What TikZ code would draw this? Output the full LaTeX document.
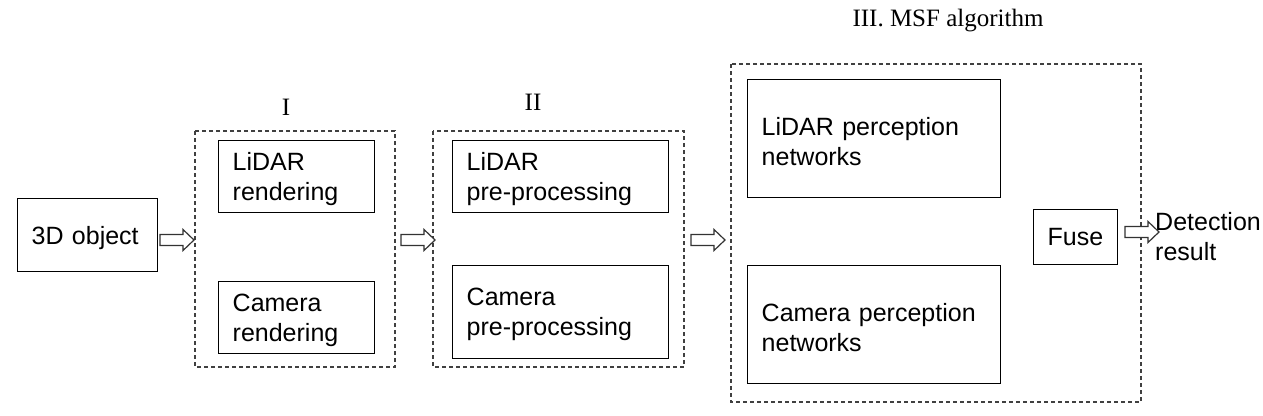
\documentclass[tikz,border=0pt]{standalone}
\usepackage{fontspec}
\setmainfont{Liberation Sans}
\newfontfamily\labelfont{Liberation Serif}
\begin{document}
\begin{tikzpicture}[x=1pt,y=-1pt,
  font=\fontsize{25}{30}\selectfont,
  box/.style={draw=black, line width=1.4pt, anchor=north west, align=left,
    inner xsep=14pt, inner ysep=0pt, execute at end node={\endgraf\kern-5pt}},
  group/.style={draw=black!75, line width=1.3pt, dash pattern=on 4pt off 3pt},
  grouplabel/.style={font=\labelfont\fontsize{25}{30}\selectfont},
  pics/blockarrow/.style={code={
    \draw[line width=1.2pt, draw=black!80, fill=white]
      (0,-5.5) -- (23,-5.5) -- (23,-10.5) -- (34,0) -- (23,10.5) -- (23,5.5) -- (0,5.5) -- cycle;}}
]
\useasboundingbox (0,0) rectangle (1263,415);

% groups
\draw[group] (195,131) rectangle (395,367);
\draw[group] (433,131) rectangle (684,367);
\draw[group] (731,64) rectangle (1141,402);
\node[grouplabel] (lI) at (286,107) {I};
\node[grouplabel] (lII) at (533,102) {II};
\node[grouplabel] (lIII) at (948,21) {III. MSF algorithm};

% boxes
\node[box, text width=112pt, minimum height=73pt] (obj) at (17,198) {3D object};
\node[box, text width=128pt, minimum height=72pt] (lr) at (218,140) {LiDAR\\rendering};
\node[box, text width=128pt, minimum height=72pt] (cr) at (218,281) {Camera\\rendering};
\node[box, text width=188pt, minimum height=72pt] (lp) at (452,140) {LiDAR\\pre-processing};
\node[box, text width=188pt, minimum height=93pt] (cp) at (452,265) {Camera\\pre-processing};
\node[box, text width=225pt, minimum height=118pt] (ln) at (747,79) {LiDAR perception\\networks};
\node[box, text width=225pt, minimum height=118pt] (cn) at (747,265) {Camera perception\\networks};
\node[box, text width=56pt, minimum height=55pt] (fuse) at (1033,209) {Fuse};
\node[anchor=west, align=left, inner sep=0pt] (det) at (1155,237) {Detection\\result};

% block arrows
\coordinate (a1) at (160,240);
\coordinate (a2) at (401,240);
\coordinate (a3) at (691,240);
\coordinate (a4) at (1125,232);
\pic at (a1) {blockarrow};
\pic at (a2) {blockarrow};
\pic at (a3) {blockarrow};
\pic at (a4) {blockarrow};
\end{tikzpicture}
\end{document}
